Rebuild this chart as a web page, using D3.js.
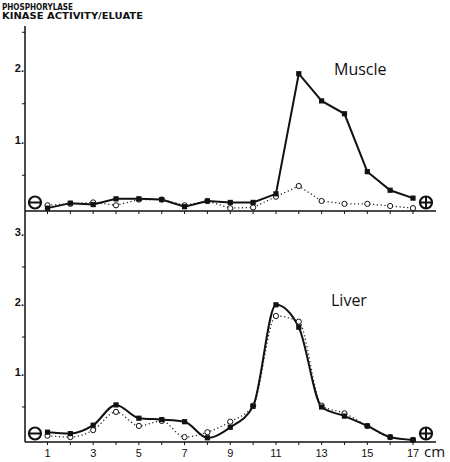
<!DOCTYPE html>
<html>
<head>
<meta charset="utf-8">
<script src="https://cdn.jsdelivr.net/npm/d3@7/dist/d3.min.js"></script>
<style>
  html, body { margin: 0; padding: 0; background: #fff; }
  svg { display: block; }
</style>
</head>
<body>
<svg id="chart" width="450" height="462"></svg>
<script>
// Fraction position along the gel (cm)
const positions = [1, 2, 3, 4, 5, 6, 7, 8, 9, 10, 11, 12, 13, 14, 15, 16, 17];

// Muscle eluates: phosphorylase kinase activity
const muscleActive = [0.04, 0.11, 0.09, 0.17, 0.17, 0.16, 0.06, 0.14, 0.12, 0.12, 0.24, 1.92, 1.54, 1.36, 0.55, 0.29, 0.18];
const muscleInactive = [0.08, 0.10, 0.12, 0.08, 0.16, 0.16, 0.08, 0.14, 0.04, 0.05, 0.20, 0.35, 0.14, 0.10, 0.10, 0.07, 0.04];

// Liver eluates
const liverActive = [0.14, 0.12, 0.24, 0.53, 0.34, 0.32, 0.29, 0.06, 0.21, 0.51, 1.96, 1.64, 0.50, 0.37, 0.23, 0.07, 0.03];
const liverInactive = [0.09, 0.07, 0.17, 0.43, 0.23, 0.30, 0.07, 0.14, 0.29, 0.52, 1.80, 1.72, 0.52, 0.41, 0.23, 0.07, 0.03];

const muscleTicks = [1, 2];
const liverTicks = [1, 2, 3];
const xLabels = [1, 3, 5, 7, 9, 11, 13, 15, 17];

const svg = d3.select("#chart");
const axisX = 25;
const xEnd = 436;

const x = d3.scaleLinear().domain([1, 17]).range([47.5, 413]);
const yTop = d3.scaleLinear().domain([0, 2]).range([211, 68]);
const yBot = d3.scaleLinear().domain([0, 3]).range([442, 232]);

// Shared vertical axis
svg.append("line")
  .attr("x1", axisX).attr("x2", axisX)
  .attr("y1", 26).attr("y2", yBot(0))
  .attr("stroke", "#111").attr("stroke-width", 1.5);

// Axis title
svg.append("text").text("PHOSPHORYLASE")
  .attr("x", 2).attr("y", 10)
  .attr("textLength", 71).attr("lengthAdjust", "spacingAndGlyphs")
  .style("font", "900 8px 'DejaVu Sans'").attr("fill", "#111");
svg.append("text").text("KINASE ACTIVITY/ELUATE")
  .attr("x", 2).attr("y", 19)
  .attr("textLength", 141).attr("lengthAdjust", "spacingAndGlyphs")
  .style("font", "900 8px 'DejaVu Sans'").attr("fill", "#111");

function panel(y, ticks, maxV, active, inactive, label, labelPos, curve) {
  // baseline
  svg.append("line")
    .attr("x1", axisX).attr("x2", xEnd)
    .attr("y1", y(0)).attr("y2", y(0))
    .attr("stroke", "#111").attr("stroke-width", 1.3);

  // x tick marks at every cm
  svg.append("g").selectAll("line").data(positions).join("line")
    .attr("x1", d => x(d)).attr("x2", d => x(d))
    .attr("y1", y(0)).attr("y2", y(0) + 3)
    .attr("stroke", "#111").attr("stroke-width", 1);

  // minor y ticks at half units
  const minor = d3.range(0.5, maxV + 0.01, 1);
  svg.append("g").selectAll("line").data(minor).join("line")
    .attr("x1", axisX - 3).attr("x2", axisX)
    .attr("y1", d => y(d)).attr("y2", d => y(d))
    .attr("stroke", "#111").attr("stroke-width", 1);

  // major y labels
  svg.append("g").selectAll("text").data(ticks).join("text")
    .attr("x", axisX - 1).attr("y", d => y(d) + 4)
    .attr("text-anchor", "end")
    .style("font", "bold 11px 'Liberation Sans'").attr("fill", "#111")
    .text(d => d + ".");

  const pts = a => positions.map((p, i) => [p, a[i]]);

  // inactive form: dotted line with open circles
  svg.append("path")
    .datum(pts(inactive))
    .attr("d", d3.line().x(d => x(d[0])).y(d => y(d[1])).curve(curve))
    .attr("fill", "none").attr("stroke", "#222")
    .attr("stroke-width", 1.3).attr("stroke-dasharray", "1.2,2.6");

  // active form: solid line
  svg.append("path")
    .datum(pts(active))
    .attr("d", d3.line().x(d => x(d[0])).y(d => y(d[1])).curve(curve))
    .attr("fill", "none").attr("stroke", "#111")
    .attr("stroke-width", 2);

  svg.append("g").selectAll("circle").data(pts(inactive)).join("circle")
    .attr("cx", d => x(d[0])).attr("cy", d => y(d[1])).attr("r", 2.6)
    .attr("fill", "#fff").attr("stroke", "#111").attr("stroke-width", 1);

  svg.append("g").selectAll("rect").data(pts(active)).join("rect")
    .attr("x", d => x(d[0]) - 2.6).attr("y", d => y(d[1]) - 2.6)
    .attr("width", 5.2).attr("height", 5.2)
    .attr("fill", "#111");

  // electrode signs
  const sign = (cx, plus) => {
    const cy = y(0) - 8.5, r = 6;
    const g = svg.append("g");
    g.append("circle").attr("cx", cx).attr("cy", cy).attr("r", r)
      .attr("fill", "#fff").attr("stroke", "#111").attr("stroke-width", 2.2);
    g.append("line").attr("x1", cx - r).attr("x2", cx + r)
      .attr("y1", cy).attr("y2", cy).attr("stroke", "#111").attr("stroke-width", 2);
    if (plus) g.append("line").attr("x1", cx).attr("x2", cx)
      .attr("y1", cy - r).attr("y2", cy + r).attr("stroke", "#111").attr("stroke-width", 2);
  };
  sign(35, false);
  sign(426, true);

  svg.append("text").text(label)
    .attr("x", labelPos[0]).attr("y", labelPos[1])
    .style("font", "16px 'Open Sans'").attr("fill", "#111");
}

panel(yTop, muscleTicks, 2.5, muscleActive, muscleInactive, "Muscle", [334, 75], d3.curveLinear);
panel(yBot, liverTicks, 2.5, liverActive, liverInactive, "Liver", [331, 306], d3.curveMonotoneX);

// x labels under the lower panel
svg.append("g").selectAll("text").data(xLabels).join("text")
  .attr("x", d => x(d)).attr("y", 457)
  .attr("text-anchor", "middle")
  .style("font", "11px 'Liberation Sans'").attr("fill", "#111")
  .text(d => d);
svg.append("text").text("cm")
  .attr("x", 424).attr("y", 457)
  .style("font", "15px 'Open Sans'").attr("fill", "#111");
</script>
</body>
</html>
